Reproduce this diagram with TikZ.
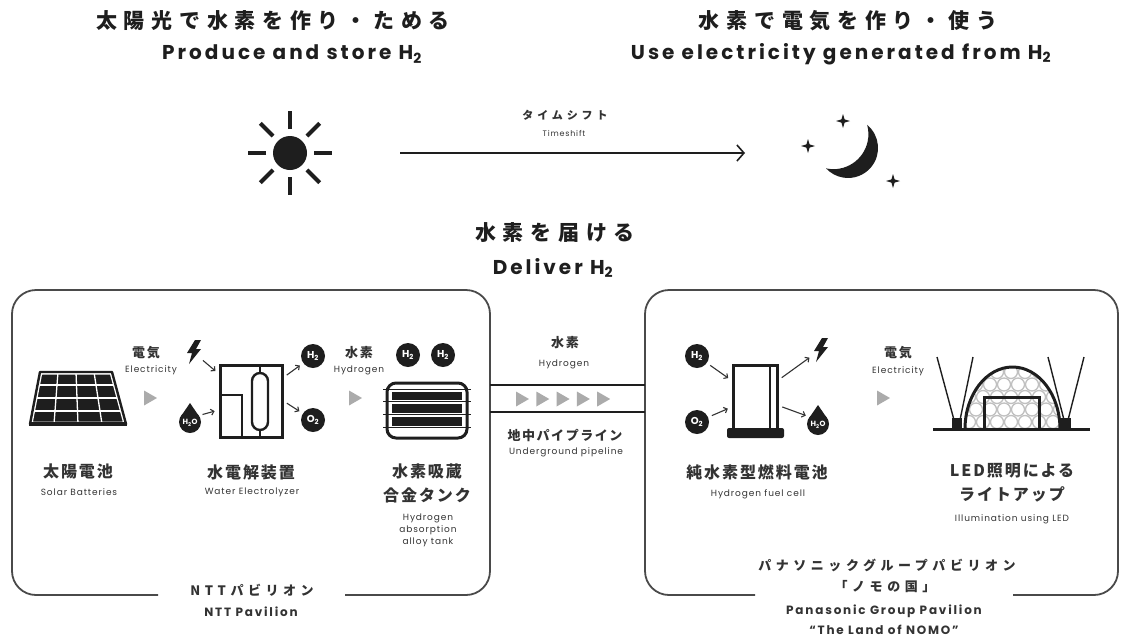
\documentclass[tikz,border=0pt]{standalone}
\usepackage{fontspec}
\setmainfont{Poppins}
\newfontfamily\jpwide[LetterSpace=32]{Noto Sans CJK JP}
\newfontfamily\jpmid[LetterSpace=12]{Noto Sans CJK JP}
\newfontfamily\jppav[LetterSpace=35]{Noto Sans CJK JP}
\newfontfamily\enwide[LetterSpace=15]{Poppins}
\newfontfamily\ensmall[LetterSpace=10]{Poppins}
\usetikzlibrary{arrows.meta, calc}
\definecolor{ink}{HTML}{1E1E1E}
\definecolor{txt}{HTML}{333333}
\definecolor{framegray}{HTML}{4A4A4A}
\definecolor{flowgray}{HTML}{ABABAB}
\definecolor{cellgray}{HTML}{C0C0C0}
\newcommand{\Htwo}{H\textsubscript{2}}
\tikzset{
    jttl/.style={font=\jpwide\bfseries\fontsize{21}{24}\selectfont, text=ink, inner sep=0pt},
    ettl/.style={font=\enwide\bfseries\fontsize{20}{24}\selectfont, text=ink, inner sep=0pt},
    jlbl/.style={font=\jpmid\bfseries\fontsize{16}{24}\selectfont, text=txt, inner sep=0pt, align=center},
    jsml/.style={font=\jpmid\bfseries\fontsize{13}{15}\selectfont, text=txt, inner sep=0pt},
    jpav/.style={font=\jppav\bfseries\fontsize{13}{15}\selectfont, text=txt, inner sep=0pt},
    esml/.style={font=\ensmall\fontsize{9}{12}\selectfont, text=txt, inner sep=0pt, align=center},
    epav/.style={font=\enwide\bfseries\fontsize{12}{14}\selectfont, text=txt, inner sep=0pt},
    bubble/.style={circle, fill=ink, text=white, inner sep=0pt, minimum size=24pt,
        font=\bfseries\fontsize{10}{10}\selectfont},
    tip/.style={-{Straight Barb[length=3pt,width=6pt]}, line width=1.1pt, txt,
        shorten >=4pt, shorten <=4pt},
    shiftarrow/.style={-{Straight Barb[length=7pt,width=16pt]}, line width=1.6pt, ink},
    framebox/.style={draw=framegray, line width=1.8pt, rounded corners=24pt},
    pipe/.style={draw=ink, line width=1.8pt},
    icon/.style={draw=ink, line width=3pt},
    pole/.style={draw=ink, line width=1.4pt},
    cellline/.style={draw=white, line width=1.3pt},
    hexline/.style={draw=cellgray, line width=1.3pt},
    bolt/.pic={\fill[ink] (2,-12) -- (8,-12) -- (3,-3) -- (8,-3) -- (-4,12) -- (-1,1) -- (-6,1) -- cycle;},
    drop/.pic={
        \fill[ink] (-9,-1.8) -- (0,-15) -- (9,-1.8) -- cycle;
        \fill[ink] (0,4) circle (11pt);
        \node[text=white, inner sep=0pt, font=\bfseries\fontsize{7.5}{8}\selectfont] (-l) at (0,5) {\Htwo O};
    },
    star/.pic={\fill[ink] (0,-7) -- (1.6,-1.6) -- (7,0) -- (1.6,1.6) -- (0,7) -- (-1.6,1.6) -- (-7,0) -- (-1.6,-1.6) -- cycle;},
    flow/.pic={\fill[flowgray] (-6,-7.5) -- (7,0) -- (-6,7.5) -- cycle;}
}

\begin{document}
\begin{tikzpicture}[x=1pt, y=-1pt]
    \useasboundingbox (0,0) rectangle (1124,638);

    % headings
    \node[jttl] (t-left-jp) at (273,21) {太陽光で水素を作り・ためる};
    \node[ettl] (t-left-en) at (292,54) {Produce and store \Htwo};
    \node[jttl] (t-right-jp) at (848,21) {水素で電気を作り・使う};
    \node[ettl] (t-right-en) at (841,54) {Use electricity generated from \Htwo};

    % sun, moon and the time shift between them
    \coordinate (sun) at (290,153);
    \fill[ink] (sun) circle (17pt);
    \foreach \a in {0,45,...,315}
        \draw[line width=4pt, ink] ($(sun)+(\a:24pt)$) -- ($(sun)+(\a:42pt)$);
    \coordinate (ts-a) at (400,153);
    \coordinate (ts-b) at (745,153);
    \draw[shiftarrow] (ts-a) -- (ts-b);
    \node[jpav, font=\jppav\bfseries\fontsize{11}{13}\selectfont] (ts-jp) at (565,115) {タイムシフト};
    \node[esml, font=\ensmall\fontsize{8}{10}\selectfont] (ts-en) at (564,133) {Timeshift};
    % crescent: outer rim, then the inner bite back to the upper tip
    \fill[ink] (867.2,124.9) arc[start angle=50.3, end angle=-137.2, radius=30pt]
        arc[start angle=-102.2, end angle=15.4, radius=35pt] -- cycle;
    \pic at (843,121) {star};
    \pic at (808,146) {star};
    \pic at (893,181) {star};

    \node[jttl] (t-mid-jp) at (555,233) {水素を届ける};
    \node[ettl] (t-mid-en) at (553,268) {Deliver \Htwo};

    % pavilion frames, open at the bottom for their names
    \draw[framebox] (158,595) -- (12,595) -- (12,290) -- (490,290) -- (490,595) -- (345,595);
    \draw[framebox] (755,595) -- (645,595) -- (645,290) -- (1118,290) -- (1118,595) -- (1013,595);
    \node[jpav] (ntt-jp) at (252,590) {NTTパビリオン};
    \node[epav] (ntt-en) at (251,612) {NTT Pavilion};
    \node[jpav] (pana-jp) at (887,565) {パナソニックグループパビリオン};
    \node[jpav] (nomo-jp) at (885,587) {「ノモの国」};
    \node[epav] (pana-en) at (884,611) {Panasonic Group Pavilion};
    \node[epav] (nomo-en) at (884,630) {“The Land of NOMO”};

    % underground pipeline
    \draw[pipe] (490,385) -- (645,385);
    \draw[pipe] (490,412) -- (645,412);
    \foreach \i in {0,...,4}
        \pic at ({522+20.3*\i},399) {flow};
    \node[jsml] (pipe-jp) at (565,343) {水素};
    \node[esml] (pipe-en) at (564,364) {Hydrogen};
    \node[jsml] (pipe2-jp) at (565,435) {地中パイプライン};
    \node[esml] (pipe2-en) at (566,452) {Underground pipeline};

    % solar panel
    \coordinate (ptl) at (40,372);
    \coordinate (ptr) at (112,372);
    \coordinate (pbr) at (126,424);
    \coordinate (pbl) at (30,424);
    \fill[ink] (ptl) -- (ptr) -- (pbr) -- (pbl) -- cycle;
    \foreach \k in {0.25,0.5,0.75} {
        \draw[cellline] ($(ptl)!\k!(ptr)$) -- ($(pbl)!\k!(pbr)$);
        \draw[cellline] ($(ptl)!\k!(pbl)$) -- ($(ptr)!\k!(pbr)$);
    }
    \draw[white, line width=5pt, line join=round] (ptl) -- (ptr) -- (pbr) -- (pbl) -- cycle;
    \draw[ink, line width=2.4pt, line join=round] (ptl) -- (ptr) -- (pbr) -- (pbl) -- cycle;
    \draw[ink, line width=4pt] ($(pbl)+(-1,0)$) -- ($(pbr)+(1,0)$);
    \node[jlbl] (solar-jp) at (78,471) {太陽電池};
    \node[esml] (solar-en) at (79,492) {Solar Batteries};

    \pic at (150,398) {flow};
    \node[jsml] (el1-jp) at (146,353) {電気};
    \node[esml] (el1-en) at (151,370) {Electricity};

    % water electrolyzer
    \coordinate (bolt1) at (193,352);
    \coordinate (drop1) at (190,418);
    \pic at (bolt1) {bolt};
    \pic (d1) at (drop1) {drop};
    \node[icon, minimum width=62pt, minimum height=72pt, inner sep=0pt] (ely) at (251,401) {};
    \draw[icon, line width=2.4pt] (220,395) -- (242,395) -- (242,437);
    \draw[icon, line width=2.4pt, rounded corners=8pt] (252,373) rectangle (268,430);
    \draw[icon, line width=2.4pt] (260,365) -- (260,373);
    \draw[icon, line width=2.4pt] (260,430) -- (260,437);
    \node[bubble] (h2a) at (313,356) {\Htwo};
    \node[bubble] (o2a) at (313,420) {O\textsubscript{2}};
    \draw[tip, shorten <=13pt] (bolt1) -- (ely);
    \draw[tip, shorten <=13pt] (drop1) -- (ely);
    \draw[tip] (ely) -- (h2a);
    \draw[tip] (ely.east) -- (o2a);
    \node[jlbl] (ely-jp) at (251,472) {水電解装置};
    \node[esml] (ely-en) at (252,492) {Water Electrolyzer};

    \pic at (355,398) {flow};
    \node[jsml] (hy1-jp) at (359,353) {水素};
    \node[esml] (hy1-en) at (359,370) {Hydrogen};

    % hydrogen absorption alloy tank
    \node[bubble] (h2b) at (408,355) {\Htwo};
    \node[bubble] (h2c) at (443,355) {\Htwo};
    \node[icon, rounded corners=9pt, minimum width=80pt, minimum height=55pt, inner sep=0pt] (tank) at (427,410.5) {};
    \foreach \y in {389.5,401.5,414.5,427.5}
        \draw[ink, line width=1.2pt] (383,\y) -- (471,\y);
    \fill[ink] (392,391.5) rectangle (462,399.5);
    \fill[ink] (392,403.5) rectangle (462,412.5);
    \fill[ink] (392,416.5) rectangle (462,425.5);
    \node[jlbl] (tank-jp) at (427,483) {水素吸蔵\\合金タンク};
    \node[esml] (tank-en) at (428,530) {Hydrogen\\absorption\\alloy tank};

    % pure hydrogen fuel cell
    \node[bubble] (h2d) at (697,356) {\Htwo};
    \node[bubble] (o2b) at (697,422) {O\textsubscript{2}};
    \node[icon, minimum width=44pt, minimum height=64pt, inner sep=0pt] (fc) at (755,397) {};
    \draw[icon, line width=2pt] (770,365) -- (770,429);
    \fill[ink, rounded corners=2pt] (727,428) rectangle (784,438);
    \coordinate (bolt2) at (820,350);
    \coordinate (drop2) at (818,420);
    \pic at (bolt2) {bolt};
    \pic (d2) at (drop2) {drop};
    \draw[tip] (h2d) -- (fc);
    \draw[tip] (o2b) -- (fc);
    \draw[tip, shorten >=13pt] (fc) -- (bolt2);
    \draw[tip, shorten >=13pt] (fc) -- (drop2);
    \node[jlbl] (fc-jp) at (757,472) {純水素型燃料電池};
    \node[esml] (fc-en) at (758,494) {Hydrogen fuel cell};

    \pic at (883,398) {flow};
    \node[jsml] (el2-jp) at (898,353) {電気};
    \node[esml] (el2-en) at (898,371) {Electricity};

    % LED lit dome
    \begin{scope}
        \clip (965,429) arc[start angle=180, end angle=0, x radius=47.5pt, y radius=62pt] -- cycle;
        \foreach \r in {0,...,5}
            \foreach \c in {0,...,7}
                \draw[hexline] ({955+14*\c+7*mod(\r,2)},{422-12.5*\r}) circle (6.5pt);
    \end{scope}
    \draw[icon] (965,429) arc[start angle=180, end angle=0, x radius=47.5pt, y radius=62pt];
    \draw[icon] (984,429) -- (984,397) -- (1039,397) -- (1039,429);
    \draw[pole] (937,357) -- (954,420);
    \draw[pole] (973,357) -- (960,420);
    \draw[pole] (1048,357) -- (1064,420);
    \draw[pole] (1084,357) -- (1068,420);
    \fill[ink] (952,418) rectangle (962,429);
    \fill[ink] (1061,418) rectangle (1071,429);
    \draw[icon] (933,429) -- (1090,429);
    \node[jlbl] (led-jp) at (1012,483) {LED照明による\\ライトアップ};
    \node[esml] (led-en) at (1012,519) {Illumination using LED};
\end{tikzpicture}
\end{document}
